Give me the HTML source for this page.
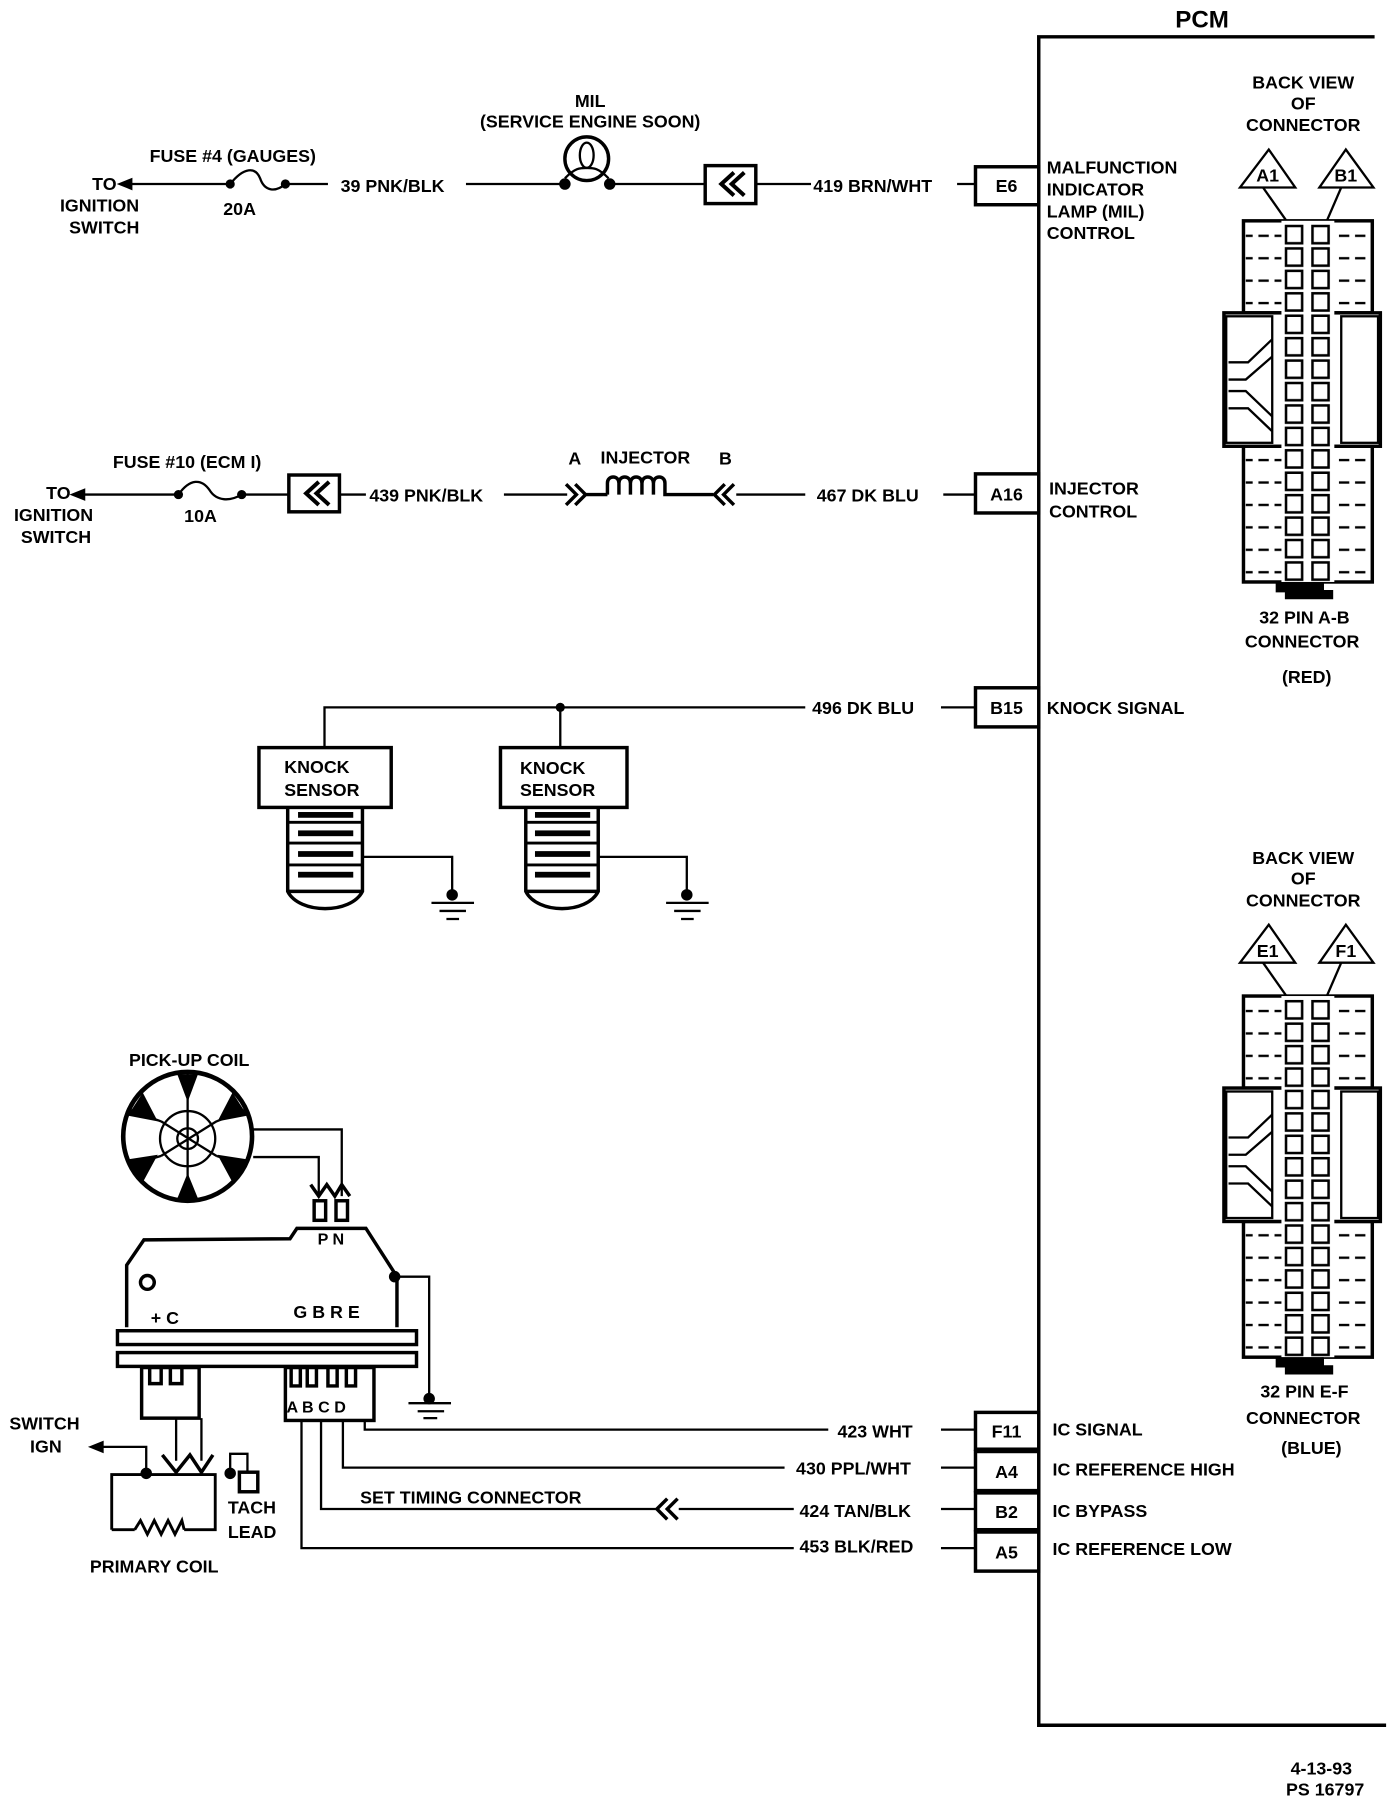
<!DOCTYPE html>
<html><head><meta charset="utf-8"><style>
html,body{margin:0;padding:0;background:#fff}
svg{display:block}
text{font-family:"Liberation Sans",sans-serif;font-weight:bold;font-size:15.5px;fill:#000}
</style></head><body>
<svg width="1392" height="1800" viewBox="0 0 1210 1565" xmlns="http://www.w3.org/2000/svg">
<defs>
<pattern id="pins" x="1116" y="195" width="42" height="19.5" patternUnits="userSpaceOnUse">
<rect x="2" y="1.5" width="14" height="15" fill="#fff" stroke="#000" stroke-width="2.2"/>
<rect x="25" y="1.5" width="14" height="15" fill="#fff" stroke="#000" stroke-width="2.2"/>
</pattern>
<pattern id="dash" x="1080" y="195" width="120" height="19.5" patternUnits="userSpaceOnUse">
<line x1="0" y1="10" x2="120" y2="10" stroke="#000" stroke-width="2" stroke-dasharray="9,5"/>
</pattern>
<g id="conn" fill="none" stroke="#000" stroke-width="3">
<text x="1133" y="77" text-anchor="middle" stroke="none">BACK VIEW</text>
<text x="1133" y="95" text-anchor="middle" stroke="none">OF</text>
<text x="1133" y="114" text-anchor="middle" stroke="none">CONNECTOR</text>
<polygon points="1103,130 1078,163 1126,163" stroke-width="2"/>
<polygon points="1170,130 1147,163 1194,163" stroke-width="2"/>
<line x1="1098" y1="163" x2="1124" y2="200" stroke-width="2"/>
<line x1="1166" y1="163" x2="1150" y2="200" stroke-width="2"/>
<rect x="1081" y="192" width="112" height="80" fill="#fff"/>
<rect x="1081" y="388" width="112" height="118" fill="#fff"/>
<rect x="1083" y="195" width="108" height="76" fill="url(#dash)" stroke="none"/>
<rect x="1083" y="390" width="108" height="114" fill="url(#dash)" stroke="none"/>
<rect x="1064" y="272" width="136" height="116" fill="#fff"/>
<rect x="1066" y="275" width="40" height="110" fill="#fff" stroke-width="2"/>
<rect x="1166" y="275" width="32" height="110" fill="#fff" stroke-width="2"/>
<path d="M1068,315 L1085,315 L1106,295 M1068,330 L1083,330 L1106,310 M1068,340 L1083,340 L1106,362 M1068,355 L1085,355 L1106,375" stroke-width="2"/>
<rect x="1114" y="192" width="46" height="314" fill="#fff" stroke="none"/>
<rect x="1116" y="195" width="42" height="312" fill="url(#pins)" stroke="none"/>
<path d="M1110,506 L1110,514 L1118,514 L1118,520 L1158,520 L1158,514 L1150,514 L1150,506" fill="#000" stroke-width="2"/>
</g>
</defs>

<g fill="none" stroke="#000" stroke-width="3">
<path d="M1195,32 L903,32 L903,1500 L1205,1500"/>
</g>
<text x="1045" y="24" text-anchor="middle" style="font-size:21px">PCM</text>

<use href="#conn"/>
<use href="#conn" transform="translate(0,674)"/>
<text x="1102" y="158" text-anchor="middle">A1</text>
<text x="1170" y="158" text-anchor="middle">B1</text>
<text x="1102" y="832" text-anchor="middle">E1</text>
<text x="1170" y="832" text-anchor="middle">F1</text>
<text x="1134" y="542" text-anchor="middle">32  PIN A-B</text>
<text x="1132" y="563" text-anchor="middle">CONNECTOR</text>
<text x="1136" y="594" text-anchor="middle">(RED)</text>
<text x="1134" y="1215" text-anchor="middle">32  PIN E-F</text>
<text x="1133" y="1238" text-anchor="middle">CONNECTOR</text>
<text x="1140" y="1264" text-anchor="middle">(BLUE)</text>

<g fill="#fff" stroke="#000" stroke-width="3">
<rect x="848" y="145" width="55" height="33"/>
<rect x="848" y="412" width="55" height="34"/>
<rect x="848" y="598" width="55" height="34"/>
<rect x="848" y="1228" width="55" height="32"/>
<rect x="848" y="1262" width="55" height="34"/>
<rect x="848" y="1298" width="55" height="32"/>
<rect x="848" y="1332" width="55" height="34"/>
</g>
<g text-anchor="middle">
<text x="875" y="167">E6</text>
<text x="875" y="435">A16</text>
<text x="875" y="621">B15</text>
<text x="875" y="1250">F11</text>
<text x="875" y="1285">A4</text>
<text x="875" y="1320">B2</text>
<text x="875" y="1355">A5</text>
</g>
<text x="910" y="151">MALFUNCTION</text>
<text x="910" y="170">INDICATOR</text>
<text x="910" y="189">LAMP (MIL)</text>
<text x="910" y="208">CONTROL</text>
<text x="912" y="430">INJECTOR</text>
<text x="912" y="450">CONTROL</text>
<text x="910" y="621">KNOCK  SIGNAL</text>
<text x="915" y="1248">IC SIGNAL</text>
<text x="915" y="1283">IC REFERENCE HIGH</text>
<text x="915" y="1319">IC BYPASS</text>
<text x="915" y="1352">IC REFERENCE LOW</text>

<g fill="none" stroke="#000" stroke-width="2">
<path d="M107,160 L200,160 M248,160 L285,160 M405,160 L490,160 M530,160 L612,160 M658,160 L705,160 M832,160 L848,160"/>
<path d="M200,160 C212,145 222,145 226,155 C230,167 240,167 248,160"/>
<polygon points="104,160 114,156 114,164" fill="#000"/>
<circle cx="510" cy="138" r="19" stroke-width="3"/>
<ellipse cx="510" cy="135" rx="6" ry="11"/>
<path d="M491,155 C500,146 504,146 510,146 C516,146 520,146 529,155"/>
<rect x="613" y="144" width="44" height="33" stroke-width="3"/>
<path d="M638,150 L627,160 L638,170 M647,150 L636,160 L647,170" stroke-width="3.5"/>
<path d="M66,430 L155,430 M210,430 L250,430 M296,430 L318,430 M438,430 L493,430 M640,430 L700,430 M820,430 L848,430"/>
<path d="M155,430 C165,416 175,416 182,426 C188,436 200,436 210,430"/>
<polygon points="63,430 73,426 73,434" fill="#000"/>
<rect x="251" y="413" width="44" height="32" stroke-width="3"/>
<path d="M277,419 L266,429 L277,439 M286,419 L275,429 L286,439" stroke-width="3.5"/>
<path d="M492,421 L501,430 L492,439 M500,421 L509,430 L500,439 M509,430 L528,430" stroke-width="3"/>
<path d="M528,430 L528,420 C528,413 538,413 538,420 L538,430 L538,420 C538,413 548,413 548,420 L548,430 L548,420 C548,413 558,413 558,420 L558,430 L558,420 C558,413 568,413 568,420 L568,430 L568,420 C568,413 578,413 578,420 L578,430 L600,430 L620,430" stroke-width="3"/>
<path d="M630,421 L621,430 L630,439 M638,421 L629,430 L638,439" stroke-width="3"/>
<path d="M282,650 L282,615 L700,615 M487,615 L487,650 M818,615 L848,615"/>
<g stroke-width="3">
<rect x="225" y="650" width="115" height="52"/>
<path d="M250,702 L250,775 C260,795 305,795 315,775 L315,702 M250,775 L315,775"/>
<rect x="435" y="650" width="110" height="52"/>
<path d="M457,702 L457,775 C467,795 510,795 520,775 L520,702 M457,775 L520,775"/>
</g>
<g stroke-width="2.5">
<path d="M250,715 L315,715 M250,733 L315,733 M250,752 L315,752"/>
<path d="M457,715 L520,715 M457,733 L520,733 M457,752 L520,752"/>
</g>
<g fill="#000" stroke="none">
<rect x="259" y="706" width="48" height="5"/><rect x="259" y="722" width="48" height="5"/><rect x="259" y="740" width="48" height="5"/><rect x="259" y="758" width="48" height="5"/>
<rect x="465" y="706" width="48" height="5"/><rect x="465" y="722" width="48" height="5"/><rect x="465" y="740" width="48" height="5"/><rect x="465" y="758" width="48" height="5"/>
</g>
<path d="M315,745 L393,745 L393,778 M375,785 L412,785 M382,792 L405,792 M388,799 L399,799"/>
<path d="M520,745 L597,745 L597,778 M579,785 L616,785 M586,792 L609,792 M592,799 L603,799"/>
<circle cx="393" cy="778" r="4" fill="#000"/>
<circle cx="597" cy="778" r="4" fill="#000"/>
<circle cx="163" cy="988" r="56" stroke-width="4"/>
<circle cx="163" cy="990" r="24"/>
<circle cx="163" cy="990" r="9"/>
<path d="M163,960 L163,1035 M140,975 L188,1005 M140,1005 L188,975 M163,933 L163,960 M113,965 L140,975 M213,965 L188,975 M113,1013 L140,1005 M213,1013 L188,1005"/>
<path d="M220,982 L297,982 L297,1040 M220,1006 L277,1006 L277,1040"/>
<path d="M270,1030 L277,1040 L284,1030 L291,1040 L297,1030 L304,1040" stroke-width="3"/>
<rect x="273" y="1044" width="10" height="17" stroke-width="3"/>
<rect x="292" y="1044" width="10" height="17" stroke-width="3"/>
<path d="M110,1154 L110,1100 L125,1078 L252,1077 L258,1068 L318,1068 L345,1110 L345,1154" stroke-width="3"/>
<circle cx="128" cy="1115" r="6" stroke-width="3"/>
<path d="M343,1110 L373,1110 L373,1218 M355,1220 L392,1220 M363,1227 L386,1227 M368,1233 L380,1233"/>
<circle cx="343" cy="1110" r="4" fill="#000"/>
<circle cx="373" cy="1216" r="4" fill="#000"/>
<rect x="102" y="1157" width="260" height="12" stroke-width="3"/>
<rect x="102" y="1176" width="260" height="12" stroke-width="3"/>
<rect x="123" y="1189" width="50" height="44" stroke-width="3"/>
<path d="M130,1190 L130,1203 L140,1203 L140,1190 M148,1190 L148,1203 L158,1203 L158,1190" stroke-width="3"/>
<rect x="248" y="1189" width="77" height="46" stroke-width="3"/>
<path d="M253,1190 L253,1205 L261,1205 L261,1190 M267,1190 L267,1205 L275,1205 L275,1190 M285,1190 L285,1205 L293,1205 L293,1190 M301,1190 L301,1205 L309,1205 L309,1190" stroke-width="3"/>
<path d="M317,1235 L317,1243 L720,1243 M818,1243 L848,1243"/>
<path d="M298,1235 L298,1276 L682,1276 M818,1276 L848,1276"/>
<path d="M279,1235 L279,1312 L570,1312 M590,1312 L690,1312 M818,1312 L848,1312"/>
<path d="M580,1303 L571,1312 L580,1321 M589,1303 L580,1312 L589,1321" stroke-width="3"/>
<path d="M262,1235 L262,1346 L690,1346 M818,1346 L848,1346"/>
<path d="M153,1233 L153,1270 M175,1233 L175,1270"/>
<path d="M141,1265 L153,1280 L165,1265 L175,1280 L185,1265" stroke-width="3"/>
<path d="M97,1330 L97,1282 L187,1282 L187,1330 L160,1330 M97,1330 L117,1330" stroke-width="2.5"/>
<path d="M117,1330 L122,1322 L128,1334 L134,1322 L140,1334 L146,1322 L152,1334 L158,1322 L160,1330" stroke-width="2.5"/>
<path d="M127,1282 L127,1258 L83,1258 M200,1282 L200,1264 L215,1264 L215,1280"/>
<polygon points="79,1258 89,1254 89,1262" fill="#000"/>
<circle cx="127" cy="1281" r="4" fill="#000"/>
<circle cx="200" cy="1281" r="4" fill="#000"/>
<rect x="208" y="1280" width="16" height="17" stroke-width="3"/>
</g>
<g fill="#000">
<circle cx="200" cy="160" r="4"/><circle cx="248" cy="160" r="4"/>
<circle cx="491" cy="160" r="5"/><circle cx="530" cy="160" r="5"/>
<circle cx="155" cy="430" r="4"/><circle cx="210" cy="430" r="4"/>
<circle cx="487" cy="615" r="4"/>
<polygon points="154,934 172,934 163,958"/><polygon points="154,1042 172,1042 163,1020"/>
<polygon points="111,970 124,950 137,975"/><polygon points="215,970 202,950 189,975"/>
<polygon points="111,1008 124,1028 137,1004"/><polygon points="215,1008 202,1028 189,1004"/>
</g>

<text x="80" y="165">TO</text>
<text x="52" y="184">IGNITION</text>
<text x="60" y="203">SWITCH</text>
<text x="130" y="141">FUSE #4 (GAUGES)</text>
<text x="194" y="187">20A</text>
<text x="296" y="167">39 PNK/BLK</text>
<text x="513" y="93" text-anchor="middle">MIL</text>
<text x="513" y="111" text-anchor="middle">(SERVICE ENGINE SOON)</text>
<text x="707" y="167">419 BRN/WHT</text>

<text x="40" y="434">TO</text>
<text x="12" y="453">IGNITION</text>
<text x="18" y="472">SWITCH</text>
<text x="98" y="407">FUSE #10 (ECM I)</text>
<text x="160" y="454">10A</text>
<text x="321" y="436">439 PNK/BLK</text>
<text x="494" y="404">A</text>
<text x="522" y="403">INJECTOR</text>
<text x="625" y="404">B</text>
<text x="710" y="436">467 DK BLU</text>
<text x="706" y="621">496 DK BLU</text>
<text x="247" y="672">KNOCK</text>
<text x="247" y="692">SENSOR</text>
<text x="452" y="673">KNOCK</text>
<text x="452" y="692">SENSOR</text>

<text x="112" y="927">PICK-UP COIL</text>
<text x="276" y="1082" style="font-size:14px">P N</text>
<text x="131" y="1151">+ C</text>
<text x="255" y="1146">G B R E</text>
<text x="249" y="1228" style="font-size:14px">A B C D</text>
<text x="8" y="1243">SWITCH</text>
<text x="26" y="1263">IGN</text>
<text x="198" y="1316">TACH</text>
<text x="198" y="1337">LEAD</text>
<text x="78" y="1367">PRIMARY COIL</text>
<text x="728" y="1250">423 WHT</text>
<text x="692" y="1282">430 PPL/WHT</text>
<text x="313" y="1307">SET TIMING CONNECTOR</text>
<text x="695" y="1319">424 TAN/BLK</text>
<text x="695" y="1350">453 BLK/RED</text>
<text x="1122" y="1543">4-13-93</text>
<text x="1118" y="1561">PS 16797</text>
</svg>
</body></html>
